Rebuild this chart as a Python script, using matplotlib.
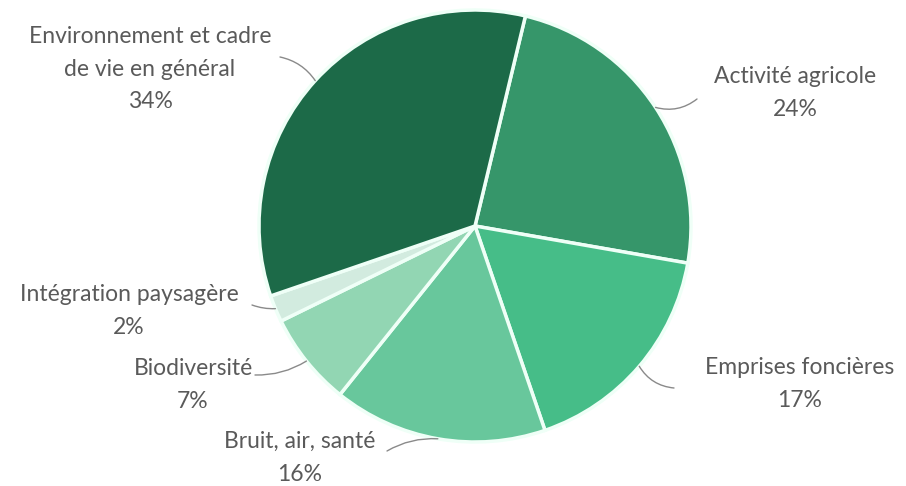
import numpy as np
import matplotlib.pyplot as plt

labels = ['Activité agricole', 'Emprises foncières', 'Bruit, air, santé',
          'Biodiversité', 'Intégration paysagère',
          'Environnement et cadre\nde vie en général']
values = [24, 17, 16, 7, 2, 34]
colors = ['#36966a', '#46bd88', '#68c79c', '#92d6b3', '#d2ebdf', '#1c6a48']

# label block centres (pixels) and where the leader line meets the text
label_pos = [(795, 93), (800, 384), (300, 458), (193, 385), (129, 311), (150, 69)]
line_start = [(697, 99), (674, 388), (387, 451), (255, 375), (252, 305), (280, 57)]
line_rad = [-0.25, -0.25, -0.15, 0.15, 0.1, -0.2]

W, H = 906, 486
fig = plt.figure(figsize=(W / 100, H / 100), dpi=100)
ax = fig.add_axes([0, 0, 1, 1])
ax.set_xlim(0, W)
ax.set_ylim(H, 0)
ax.axis('off')

cx, cy, r = 475, 226, 216
start = 76.5
total = sum(values)

# draw the wedges clockwise starting from the top-right boundary
theta = start
for v, c in zip(values, colors):
    span = 360 * v / total
    w = plt.matplotlib.patches.Wedge((cx, cy), r, -theta, -(theta - span),
                                     facecolor=c, edgecolor='#effff7', lw=2.5)
    ax.add_patch(w)
    theta -= span

theta = start
for i, v in enumerate(values):
    span = 360 * v / total
    mid = np.deg2rad(theta - span / 2)
    edge = (cx + r * np.cos(mid), cy - r * np.sin(mid))
    ax.annotate('', xy=edge, xytext=line_start[i],
                arrowprops=dict(arrowstyle='-', color='#8a8a8a', lw=1,
                                shrinkA=0, shrinkB=0,
                                connectionstyle=f'arc3,rad={line_rad[i]}'))
    tx, ty = label_pos[i]
    ax.text(tx, ty, f'{labels[i]}\n{v}%', ha='center', va='center',
            fontsize=16.5, family='Lato', color='#5a5a5a', linespacing=1.7)
    theta -= span

fig.savefig('out.png', dpi=100)
